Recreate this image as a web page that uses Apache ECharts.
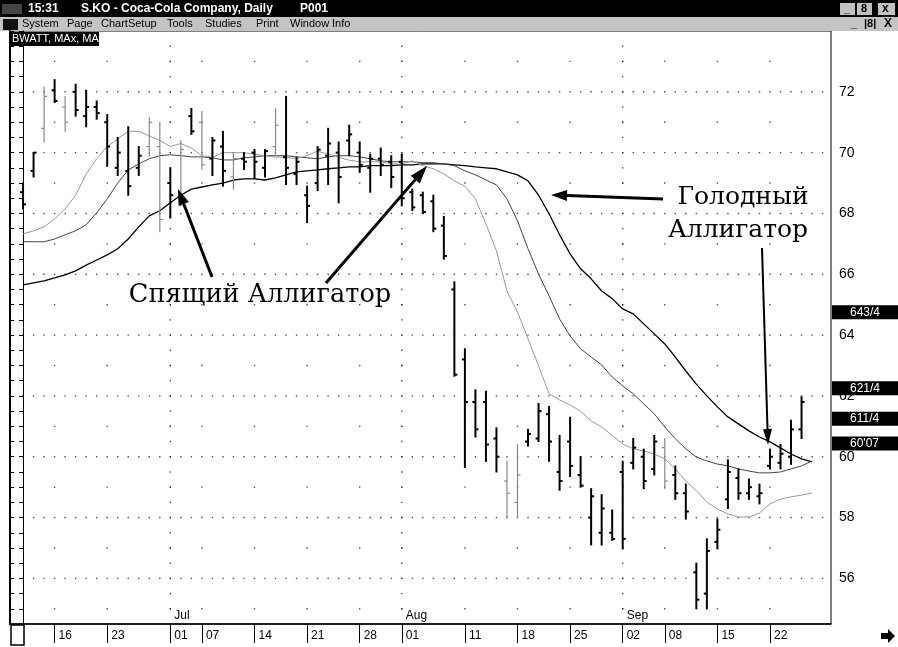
<!DOCTYPE html>
<html><head><meta charset="utf-8">
<script src="https://cdn.jsdelivr.net/npm/echarts@6/dist/echarts.min.js"></script>
<style>html,body{margin:0;padding:0;background:#fff}#c{width:898px;height:647px}</style>
</head><body><div id="c"></div><script>
// ---- DATA ----
const dates = ['06-11','06-12','06-13','06-16','06-17','06-18','06-19','06-20','06-23','06-24','06-25','06-26','06-27','06-30',
'07-01','07-02','07-03','07-07','07-08','07-09','07-10','07-11','07-14','07-15','07-16','07-17','07-18','07-21','07-22','07-23','07-24','07-25','07-28','07-29','07-30','07-31',
'08-01','08-04','08-05','08-06','08-07','08-08','08-11','08-12','08-13','08-14','08-15','08-18','08-19','08-20','08-21','08-22','08-25','08-26','08-27','08-28','08-29',
'09-02','09-03','09-04','09-05','09-08','09-09','09-10','09-11','09-12','09-15','09-16','09-17','09-18','09-19','09-22','09-23','09-24','09-25'];
const openP = [68.7,69.4,70.8,72.05,71.5,72.0,71.2,71.5,71.0,69.5,
69.4,69.5,70.2,70.2,69.0,68.5,71.2,71.0,69.8,70.2,
69.2,69.8,70.0,69.5,70.2,69.85,69.3,68.6,69.0,69.9,
70.0,70.4,70.0,69.5,69.8,69.7,69.7,68.7,68.6,68.4,
67.6,65.5,63.2,61.8,61.8,60.6,59.2,58.5,60.5,60.6,
61.4,59.5,60.5,59.4,58.0,57.5,57.5,59.5,59.8,60.0,
59.6,60.3,59.4,58.8,56.2,55.5,57.2,58.6,59.3,58.8,
58.7,59.7,59.8,60.0,60.9];
const highP = [69.0,70.0,72.15,72.4,71.85,72.25,72.05,71.7,71.25,70.5,
70.85,70.2,71.15,71.0,69.5,70.4,71.45,71.35,70.5,70.7,
70.0,70.0,70.1,70.1,71.45,71.85,69.85,68.9,70.2,70.8,
70.35,70.9,70.35,69.95,70.15,69.9,69.95,68.8,68.7,68.6,
67.9,65.75,63.55,62.2,62.15,60.95,59.85,60.4,60.9,61.75,
61.65,60.7,61.3,60.0,58.95,58.75,58.25,59.85,60.6,60.25,
60.7,60.6,59.7,59.1,56.5,57.3,57.95,59.9,59.6,59.27,
59.1,60.25,60.4,61.2,61.97];
const lowP = [68.15,69.2,70.35,71.65,70.7,71.2,70.85,71.1,69.55,69.25,
68.6,69.25,69.9,67.4,67.85,68.25,70.6,69.45,69.25,68.9,
68.8,69.45,69.15,69.2,69.95,68.95,68.95,67.7,68.75,68.95,
68.35,69.9,69.35,68.7,69.25,68.85,68.25,68.1,68.0,67.4,
66.5,62.65,59.65,60.65,59.85,59.5,58.0,58.0,60.35,60.5,
59.85,58.9,59.35,59.0,57.1,57.1,57.25,56.97,59.6,58.95,
59.4,58.95,58.6,57.95,55.0,55.0,56.97,58.3,58.6,58.6,
58.45,59.6,59.6,59.75,60.6];
const closeP = [68.3,70.0,71.85,71.7,71.0,71.4,71.5,71.3,70.2,70.0,
68.9,69.9,71.0,67.8,68.6,70.1,70.7,69.6,70.4,69.4,
69.8,69.7,69.7,70.05,70.9,69.5,69.7,68.25,70.1,70.3,
69.2,70.6,69.6,69.8,69.6,69.2,68.5,68.2,68.05,67.5,
66.6,62.7,61.8,60.9,60.4,60.0,58.8,59.4,60.75,61.5,
60.5,59.2,59.7,59.05,58.7,58.3,57.3,57.3,60.3,59.2,
60.5,59.2,58.8,58.2,55.3,56.9,57.6,59.5,58.8,59.0,
58.8,60.0,60.1,60.9,61.8];
const fadedBars = [2,4,12,13,15,17,20,24,46,47,61];
// Alligator lines (one value per bar, plus one bar ahead)
const jaw = [65.65,65.72,65.78,65.88,65.98,66.11,66.3,66.47,66.64,66.84,
67.16,67.56,67.92,68.09,68.35,68.6,68.8,68.87,68.94,69.0,
69.1,69.14,69.14,69.1,69.17,69.27,69.37,69.4,69.43,69.47,
69.5,69.53,69.53,69.57,69.57,69.57,69.6,69.6,69.63,69.63,
69.63,69.6,69.57,69.53,69.5,69.47,69.37,69.27,69.07,68.6,
67.99,67.3,66.67,66.18,65.85,65.45,65.2,64.86,64.7,64.37,
64.04,63.71,63.28,62.82,62.39,62.0,61.64,61.31,61.08,60.85,
60.65,60.49,60.29,60.09,59.93,59.83];
const teeth = [67.07,67.07,67.07,67.16,67.3,67.43,67.63,68.02,68.48,69.0,
69.43,69.63,69.8,69.9,69.93,69.9,69.86,69.86,69.83,69.76,
69.76,69.83,69.86,69.9,69.9,69.9,69.86,69.83,69.8,69.86,
69.9,69.9,69.86,69.8,69.73,69.7,69.7,69.7,69.67,69.67,
69.63,69.57,69.4,69.27,69.1,68.94,68.48,67.76,66.84,66.01,
65.29,64.53,63.97,63.55,63.28,63.02,62.62,62.33,62.07,61.74,
61.41,60.98,60.59,60.26,59.99,59.86,59.76,59.7,59.6,59.53,
59.47,59.47,59.5,59.6,59.7,59.86];
const lips = [67.33,67.43,67.56,67.82,68.15,68.6,69.3,69.8,70.2,70.45,
70.7,70.7,70.55,70.4,70.2,70.3,70.15,69.9,69.85,70.0,
70.0,70.0,69.95,69.9,69.85,69.85,69.8,69.9,70.05,69.95,
69.85,69.75,69.7,69.7,69.7,69.63,69.63,69.73,69.57,69.47,
69.3,69.07,68.9,68.48,67.66,66.77,65.45,64.76,63.88,62.99,
62.07,61.87,61.7,61.5,61.18,60.98,60.7,60.42,60.26,60.19,
60.09,59.93,59.6,59.2,58.88,58.51,58.28,58.12,58.02,58.02,
58.15,58.45,58.61,58.68,58.74,58.81];
const weekLabels = ['06-16','06-23','07-01','07-07','07-14','07-21','07-28','08-01','08-11','08-18','08-25','09-02','09-08','09-15','09-22'];
const monthStarts = ['07-01','08-01','09-02'];
const monthNames = ['Jul','Aug','Sep'];
const priceLabels = [56,58,60,62,64,66,68,70,72];
const oddRows = [55,57,59,61,63,65,67,69,71,73];
const markValues = [64.75,62.25,61.25,60.4375];
const markTexts = ['643/4','621/4','611/4',"60'07"];

// ---- CHART ----
const X0 = -1.24, X1 = 76.8, YMIN = 54.5, YMAX = 74;
const weekIdx = weekLabels.map(d => dates.indexOf(d));
const monthIdx = monthStarts.map(d => dates.indexOf(d));
const dots = [];
for (const r of priceLabels) for (let i = 0; i <= 76; i++) dots.push([i, r]);
for (const r of oddRows) for (const i of weekIdx) dots.push([i, r]);
for (const i of monthIdx) for (let v = 55; v < 74; v += 0.5) dots.push([i, v]);

function fitFont(text, family, weight, width) {
  const c = document.createElement('canvas').getContext('2d');
  c.font = weight + ' 100px ' + family;
  return 100 * width / c.measureText(text).width;
}
function arrow(x1, y1, x2, y2, w, hl, hw) {
  const dx = x2 - x1, dy = y2 - y1, L = Math.hypot(dx, dy), ux = dx / L, uy = dy / L;
  const bx = x2 - ux * hl, by = y2 - uy * hl, px = -uy, py = ux;
  return [
    {type: 'line', shape: {x1, y1, x2: bx, y2: by}, style: {stroke: '#000', lineWidth: w}, z: 20},
    {type: 'polygon', shape: {points: [[x2, y2], [bx + px * hw / 2, by + py * hw / 2], [bx - px * hw / 2, by - py * hw / 2]]}, style: {fill: '#000'}, z: 20}
  ];
}
const serif = '"DejaVu Serif"';
const fs1 = fitFont('Спящий Аллигатор', serif, 'normal', 262);
const fs2 = fitFont('Аллигатор', serif, 'normal', 140);
const sans = '"Liberation Sans", Arial, sans-serif';

const menuItems = [['System', 22], ['Page', 67], ['ChartSetup', 101], ['Tools', 167], ['Studies', 205], ['Print', 256], ['Window', 290], ['Info', 332]];

const graphics = [
  {type: 'rect', shape: {x: 0, y: 0, width: 898, height: 17}, style: {fill: '#000'}},
  {type: 'rect', shape: {x: 2, y: 4, width: 20, height: 10}, style: {fill: '#444'}},
  {type: 'text', x: 28, y: 9, style: {text: '15:31', fill: '#fff', font: 'bold 12px ' + sans, textVerticalAlign: 'middle'}},
  {type: 'text', x: 81, y: 9, style: {text: 'S.KO - Coca-Cola Company, Daily', fill: '#fff', font: 'bold 12px ' + sans, textVerticalAlign: 'middle'}},
  {type: 'text', x: 300, y: 9, style: {text: 'P001', fill: '#fff', font: 'bold 12px ' + sans, textVerticalAlign: 'middle'}},
  {type: 'rect', shape: {x: 840, y: 3, width: 15, height: 12}, style: {fill: '#c0c0c0'}},
  {type: 'rect', shape: {x: 857, y: 3, width: 15, height: 12}, style: {fill: '#c0c0c0'}},
  {type: 'rect', shape: {x: 878, y: 3, width: 17, height: 12}, style: {fill: '#c0c0c0'}},
  {type: 'text', x: 844, y: 9, style: {text: '_', fill: '#000', font: 'bold 11px ' + sans, textVerticalAlign: 'middle'}},
  {type: 'text', x: 861, y: 9, style: {text: '8', fill: '#000', font: 'bold 11px ' + sans, textVerticalAlign: 'middle'}},
  {type: 'text', x: 882, y: 9, style: {text: 'x', fill: '#000', font: 'bold 12px ' + sans, textVerticalAlign: 'middle'}},
  {type: 'rect', shape: {x: 0, y: 17, width: 898, height: 14}, style: {fill: '#c4c4c4'}},
  {type: 'rect', shape: {x: 3, y: 19, width: 15, height: 11}, style: {fill: '#111'}},
  {type: 'text', x: 851, y: 24, style: {text: '_', fill: '#000', font: 'bold 11px ' + sans, textVerticalAlign: 'middle'}},
  {type: 'text', x: 864, y: 24, style: {text: '|8|', fill: '#000', font: 'bold 11px ' + sans, textVerticalAlign: 'middle'}},
  {type: 'text', x: 884, y: 24, style: {text: 'X', fill: '#000', font: 'bold 12px ' + sans, textVerticalAlign: 'middle'}},
  {type: 'rect', shape: {x: 10, y: 32, width: 89, height: 14}, style: {fill: '#000'}, z: 15},
  {type: 'text', x: 12, y: 39, style: {text: 'BWATT, MAx, MA', fill: '#fff', font: '11px ' + sans, textVerticalAlign: 'middle'}, z: 16},
  {type: 'text', x: 260, y: 295, style: {text: 'Спящий Аллигатор', fill: '#000', font: fs1.toFixed(1) + 'px ' + serif, textAlign: 'center', textVerticalAlign: 'middle'}, z: 20},
  {type: 'text', x: 743, y: 197, style: {text: 'Голодный', fill: '#000', font: fs2.toFixed(1) + 'px ' + serif, textAlign: 'center', textVerticalAlign: 'middle'}, z: 20},
  {type: 'text', x: 738, y: 230, style: {text: 'Аллигатор', fill: '#000', font: fs2.toFixed(1) + 'px ' + serif, textAlign: 'center', textVerticalAlign: 'middle'}, z: 20},
  {type: 'rect', shape: {x: 11, y: 625, width: 13, height: 20}, style: {fill: '#fff', stroke: '#000', lineWidth: 1.5}},
  {type: 'polygon', shape: {points: [[881, 633], [888, 633], [888, 629], [895, 636], [888, 643], [888, 639], [881, 639]]}, style: {fill: '#000'}},
  ...arrow(212, 277, 178, 189, 3, 16, 11),
  ...arrow(326, 283, 427, 166, 3, 18, 12),
  ...arrow(663, 199, 551, 195, 3, 16, 11),
  ...arrow(762, 248, 768, 445, 2, 16, 9)
];
menuItems.forEach(([t, x]) => graphics.push({type: 'text', x, y: 24, style: {text: t, fill: '#000', font: '11px ' + sans, textVerticalAlign: 'middle'}}));

const chart = echarts.init(document.getElementById('c'));
chart.setOption({
  animation: false,
  backgroundColor: '#fff',
  grid: {left: 10, right: 67, top: 31, bottom: 23, show: true, borderColor: '#000', borderWidth: 1},
  xAxis: [{
    type: 'value', min: X0, max: X1, position: 'bottom',
    axisLine: {show: true, onZero: false, lineStyle: {color: '#000', width: 1.5}},
    axisTick: {show: true, customValues: weekIdx, length: 19, lineStyle: {color: '#000', width: 1}},
    axisLabel: {customValues: weekIdx, formatter: v => dates[v].slice(3), align: 'left', padding: [0, 0, 0, 4], margin: 6, color: '#000', fontSize: 12, fontFamily: 'Liberation Sans'},
    splitLine: {show: false}
  }],
  yAxis: [{
    type: 'value', min: YMIN, max: YMAX, interval: 0.5, position: 'right',
    axisLine: {show: true, lineStyle: {color: '#000', width: 1}},
    axisTick: {show: true, inside: true, length: 4, lineStyle: {color: '#000'}},
    axisLabel: {customValues: priceLabels, margin: 8, color: '#000', fontSize: 14, fontFamily: 'Liberation Sans'},
    splitLine: {show: false}
  }, {
    type: 'value', min: YMIN, max: YMAX, interval: 0.5, position: 'left',
    axisLine: {show: true, lineStyle: {color: '#000', width: 2}},
    axisTick: {show: true, inside: true, length: 4, lineStyle: {color: '#000'}},
    axisLabel: {show: false}, splitLine: {show: false}
  }],
  graphic: graphics,
  series: [
    {type: 'scatter', data: dots, symbol: 'rect', symbolSize: 1.4, itemStyle: {color: '#222'}, silent: true, z: 1},
    {type: 'line', data: jaw.map((v, i) => [i, v]), showSymbol: false, lineStyle: {color: '#000', width: 1.3}, z: 3, silent: true},
    {type: 'line', data: teeth.map((v, i) => [i, v]), showSymbol: false, lineStyle: {color: '#444', width: 1}, z: 3, silent: true},
    {type: 'line', data: lips.map((v, i) => [i, v]), showSymbol: false, lineStyle: {color: '#999', width: 1}, z: 3, silent: true},
    {type: 'custom', z: 4, silent: true,
     data: dates.map((d, i) => [i, openP[i], highP[i], lowP[i], closeP[i]]),
     encode: {x: 0, y: [1, 2, 3, 4]},
     renderItem(params, api) {
       const i = api.value(0);
       const o = api.coord([i, api.value(1)]), h = api.coord([i, api.value(2)]), l = api.coord([i, api.value(3)]), c = api.coord([i, api.value(4)]);
       const faded = fadedBars.includes(i);
       const st = {stroke: faded ? '#888' : '#000', lineWidth: faded ? 1.2 : 2};
       return {type: 'group', children: [
         {type: 'line', shape: {x1: h[0], y1: h[1] - 0.5, x2: l[0], y2: l[1] + 0.5}, style: st},
         {type: 'line', shape: {x1: o[0] - 3, y1: o[1], x2: o[0], y2: o[1]}, style: st},
         {type: 'line', shape: {x1: c[0], y1: c[1], x2: c[0] + 3, y2: c[1]}, style: st}
       ]};
     }},
    {type: 'custom', z: 5, silent: true, clip: false,
     data: monthIdx.map((i, k) => [i, k]),
     renderItem(params, api) {
       const p = api.coord([api.value(0), YMIN]);
       return {type: 'text', x: p[0] + 4, y: p[1] - 2, style: {text: monthNames[api.value(1)], fill: '#000', font: '12px "Liberation Sans"', textAlign: 'left', textVerticalAlign: 'bottom'}};
     }},
    {type: 'custom', z: 10, silent: true, clip: false,
     data: markValues.map((v, k) => [X1, v, k]),
     renderItem(params, api) {
       const p = api.coord([X1, api.value(1)]);
       return {type: 'group', children: [
         {type: 'rect', shape: {x: p[0] + 1, y: p[1] - 7, width: 67, height: 14}, style: {fill: '#000'}},
         {type: 'text', x: p[0] + 19, y: p[1], style: {text: markTexts[api.value(2)], fill: '#fff', font: '12px "Liberation Sans"', textVerticalAlign: 'middle'}}
       ]};
     }}
  ]
});
</script></body></html>
